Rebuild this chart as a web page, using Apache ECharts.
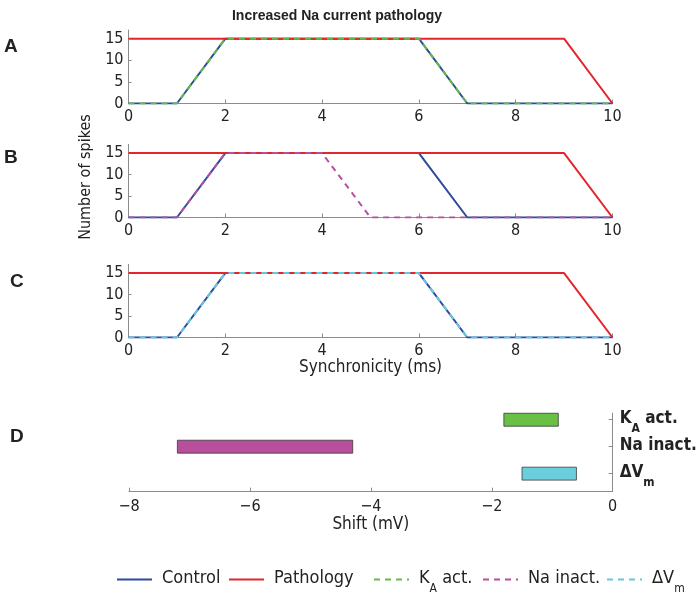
<!DOCTYPE html>
<html><head><meta charset="utf-8">
<script src="https://cdn.jsdelivr.net/npm/echarts@6/dist/echarts.min.js"></script>
<style>html,body{margin:0;padding:0;background:#fff}#c{width:700px;height:601px}</style>
</head><body><div id="c"></div>
<script>
// ---- data ----
const synchronicity = [0,1,2,3,4,5,6,7,8,9,10];
const control   = [0,0,15,15,15,15,15,0,0,0,0];
const pathology = [15,15,15,15,15,15,15,15,15,15,0];
const kaAct     = [0,0,15,15,15,15,15,0,0,0,0];
const naInact   = [0,0,15,15,15,0,0,0,0,0,0];
const deltaVm   = [0,0,15,15,15,15,15,0,0,0,0];
const xTicks = [0,2,4,6,8,10];
const yTicks = [0,5,10,15];
const shiftNames = ['dVm','naInact','kaAct'];   // bottom -> top
const shiftPos   = [1,2,3];
const shiftLow   = [-1.5,-7.2,-1.8];
const shiftHigh  = [-0.6,-4.3,-0.9];
const shiftTicks = [-8,-6,-4,-2,0];
const legendNames = ['Control','Pathology','kaAct','naInact','dVm'];

// ---- styles ----
const FONT = '"Liberation Sans Narrow","DejaVu Sans Condensed","Liberation Sans",sans-serif';
const C_CONTROL='#2b4b9b', C_PATH='#e3262b', C_KA='#62bb46', C_NA='#b84f9e', C_DV='#66c7de';
const BAR_COLORS = {kaAct:'#6abf45', naInact:'#b84f9c', dVm:'#6ccddc'};
const AX = '#8c8c8c';
const LEGEND_LEFT = [116, 228, 373, 482, 606];

const zip = a => synchronicity.map((x,i)=>[x,a[i]]);
const grids = [
  {left:128.5, right:87.5, top:30, height:73.5},
  {left:128.5, right:87.5, top:144.5, height:73},
  {left:128.5, right:87.5, top:264.5, height:73},
  {left:129, right:87.3, top:413, height:78.7}
];
function xAx(i, extra){
  return Object.assign({type:'value', gridIndex:i, min:0, max:10, interval:2,
    axisLine:{show:true, onZero:false, lineStyle:{color:AX,width:1}},
    axisTick:{show:true, inside:true, length:4, lineStyle:{color:AX}},
    axisLabel:{fontFamily:FONT, fontSize:16, color:'#222', margin:5},
    splitLine:{show:false}}, extra||{});
}
function yAx(i, extra){
  return Object.assign({type:'value', gridIndex:i, min:0, max:17,
    axisLine:{show:true, lineStyle:{color:AX,width:1}},
    axisTick:{show:true, inside:true, length:3, lineStyle:{color:AX}, customValues:yTicks},
    axisLabel:{fontFamily:FONT, fontSize:16, color:'#222', margin:5, customValues:yTicks},
    splitLine:{show:false}}, extra||{});
}
function line(name, i, data, color, dashed){
  return {type:'line', name:name, xAxisIndex:i, yAxisIndex:i, data:zip(data),
    symbol:'none', showSymbol:false, animation:false,
    lineStyle:{color:color, width:2, type: dashed ? [6,5] : 'solid'},
    itemStyle:{color:color}};
}
const richBase = {
  b:{fontFamily:FONT, fontSize:17, fontWeight:'bold', color:'#222', lineHeight:20, verticalAlign:'top'},
  s:{fontFamily:FONT, fontSize:12, fontWeight:'bold', color:'#222', lineHeight:12, padding:[13,0,0,0], verticalAlign:'top'}
};
const richLeg = {
  n:{fontFamily:FONT, fontSize:18, color:'#222', lineHeight:21, verticalAlign:'top'},
  p:{fontFamily:FONT, fontSize:18, color:'#222', lineHeight:21, verticalAlign:'top', padding:[0,0,0,5]},
  s:{fontFamily:FONT, fontSize:12, color:'#222', lineHeight:12, padding:[14,0,0,0], verticalAlign:'top'}
};
const yLabelText = {1:'{b|ΔV}{s|m}', 2:'{b|Na inact.}', 3:'{b|K}{s|A}{b| act.}'};
const legText = {Control:'{p|Control}', Pathology:'{p|Pathology}', kaAct:'{p|K}{s|A}{n| act.}', naInact:'{p|Na inact.}', dVm:'{p|ΔV}{s|m}'};

const option = {
  backgroundColor:'#fff',
  animation:false,
  title:{text:'Increased Na current pathology', left:332, textAlign:'center', top:4,
    textStyle:{fontFamily:'"Liberation Sans",Arial,sans-serif', fontSize:14, fontWeight:'bold', color:'#222'}},
  grid:grids,
  xAxis:[
    xAx(0), xAx(1),
    xAx(2,{name:'Synchronicity (ms)', nameLocation:'middle', nameGap:21,
      nameTextStyle:{fontFamily:FONT, fontSize:17, color:'#222'}}),
    {type:'value', gridIndex:3, min:-8, max:0, interval:2,
      axisLine:{show:true, onZero:false, lineStyle:{color:AX,width:1}},
      axisTick:{show:true, inside:true, length:4, lineStyle:{color:AX}},
      axisLabel:{fontFamily:FONT, fontSize:16, color:'#222', margin:7,
        formatter:v => v<0 ? '\u2212'+Math.abs(v) : String(v)},
      splitLine:{show:false},
      name:'Shift (mV)', nameLocation:'middle', nameGap:21,
      nameTextStyle:{fontFamily:FONT, fontSize:17, color:'#222'}}
  ],
  yAxis:[
    yAx(0),
    yAx(1,{name:'Number of spikes', nameLocation:'middle', nameGap:26,
      nameTextStyle:{fontFamily:FONT, fontSize:16, color:'#222', padding:[0,0,0,8]}}),
    yAx(2),
    {type:'value', gridIndex:3, min:0.33, max:3.25, position:'right',
      axisLine:{show:true, onZero:false, lineStyle:{color:AX,width:1}},
      axisTick:{show:true, inside:true, length:4, lineStyle:{color:AX}, customValues:shiftPos},
      axisLabel:{margin:7, customValues:shiftPos, formatter:v => yLabelText[v] || '', rich:richBase},
      splitLine:{show:false}}
  ],
  legend: legendNames.map((n,i)=>({
    left:LEGEND_LEFT[i], top:569, padding:0, itemWidth:35, itemHeight:14,
    data:[n],
    formatter:nm => legText[nm],
    itemStyle:{opacity:0},
    textStyle:{rich:richLeg}
  })),
  graphic:[
    {type:'text', left:4, top:37, style:{text:'A', font:'bold 19px "Liberation Sans",Arial,sans-serif', fill:'#222'}},
    {type:'text', left:4, top:148, style:{text:'B', font:'bold 19px "Liberation Sans",Arial,sans-serif', fill:'#222'}},
    {type:'text', left:10, top:272, style:{text:'C', font:'bold 19px "Liberation Sans",Arial,sans-serif', fill:'#222'}},
    {type:'text', left:10, top:427, style:{text:'D', font:'bold 19px "Liberation Sans",Arial,sans-serif', fill:'#222'}}
  ],
  series:[
    line('Control',0,control,C_CONTROL,false),
    line('Pathology',0,pathology,C_PATH,false),
    line('kaAct',0,kaAct,C_KA,true),
    line('Control',1,control,C_CONTROL,false),
    line('Pathology',1,pathology,C_PATH,false),
    line('naInact',1,naInact,C_NA,true),
    line('Control',2,control,C_CONTROL,false),
    line('Pathology',2,pathology,C_PATH,false),
    line('dVm',2,deltaVm,C_DV,true),
    {type:'custom', name:'shifts', xAxisIndex:3, yAxisIndex:3, animation:false,
      data: shiftNames.map((n,i)=>[shiftLow[i], shiftHigh[i], shiftPos[i], i]),
      encode:{x:[0,1], y:2},
      renderItem:(params, api) => {
        const lo = api.coord([api.value(0), api.value(2)]);
        const hi = api.coord([api.value(1), api.value(2)]);
        const h = api.size([0, 0.48])[1];
        const key = shiftNames[api.value(3)];
        return {type:'rect', shape:{x:lo[0], y:lo[1]-h/2, width:hi[0]-lo[0], height:h},
          style:{fill:BAR_COLORS[key], stroke:'#3a3a3a', lineWidth:0.8}};
      }}
  ]
};
const chart = echarts.init(document.getElementById('c'), null, {renderer:'canvas'});
chart.setOption(option);
</script></body></html>
